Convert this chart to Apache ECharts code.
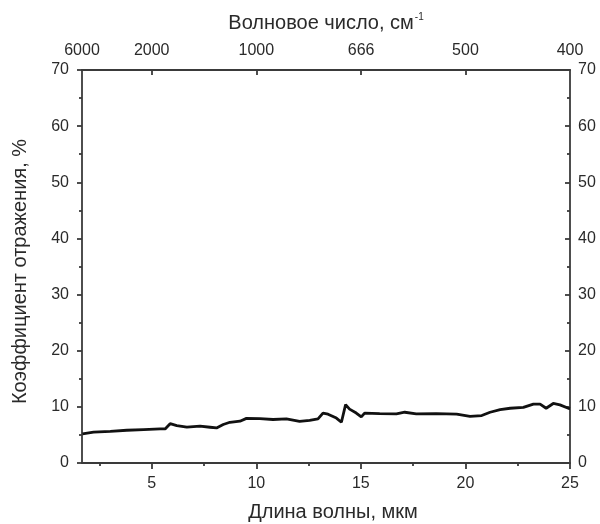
<!DOCTYPE html>
<html>
<head>
<meta charset="utf-8">
<script src="https://cdn.jsdelivr.net/npm/echarts@6/dist/echarts.min.js"></script>
<style>
  html, body { margin: 0; padding: 0; background: #fff; }
  #main { width: 600px; height: 524px; }
</style>
</head>
<body>
<div id="main"></div>
<script>
// длина волны, мкм
const wavelength = [1.69, 2.22, 3.02, 3.81, 4.61, 5.4, 5.64, 5.88, 6.2, 6.68, 7.31, 7.79, 8.1, 8.42, 8.74, 9.22, 9.53,
  10.17, 10.8, 11.44, 12.07, 12.55, 12.95, 13.19, 13.43, 13.83, 14.07, 14.27, 14.46, 14.78, 15.02, 15.18,
  15.9, 16.7, 17.1, 17.65, 18.6, 19.58, 20.22, 20.78, 21.18, 21.66, 22.14, 22.77, 23.25, 23.57, 23.86,
  24.2, 24.52, 24.92, 25];
// коэффициент отражения, %
const reflect = [5.2, 5.5, 5.65, 5.83, 5.95, 6.07, 6.07, 7.0, 6.66, 6.4, 6.55, 6.37, 6.25, 6.85, 7.25, 7.45, 7.95,
  7.9, 7.75, 7.85, 7.4, 7.6, 7.85, 8.9, 8.7, 8.0, 7.25, 10.4, 9.6, 8.9, 8.2, 8.9,
  8.8, 8.75, 9.04, 8.75, 8.8, 8.7, 8.3, 8.45, 9.04, 9.5, 9.75, 9.9, 10.5, 10.5, 9.75,
  10.6, 10.35, 9.75, 9.7];

const bottomTicks = [5, 10, 15, 20, 25];
const bottomMinor = [2.5, 7.5, 12.5, 17.5, 22.5];
const wavenumbers = [6000, 2000, 1000, 666, 500, 400];

const xMin = 10000 / 6000, xMax = 25;
const axisColor = '#3a3a3a';
const textColor = '#2a2a2a';
const font = 'Liberation Sans, Arial, sans-serif';
const topPos = wavenumbers.map(w => 10000 / w);

const chart = echarts.init(document.getElementById('main'));
const lineSt = { color: axisColor, width: 1.8 };
const option = {
  animation: false,
  grid: { left: 82, right: 30, top: 70, bottom: 61, outerBoundsMode: 'none' },
  xAxis: [
    {
      type: 'value', position: 'bottom', min: xMin, max: xMax,
      axisLine: { lineStyle: lineSt },
      axisTick: { customValues: bottomTicks, length: 6, lineStyle: lineSt },
      axisLabel: { customValues: bottomTicks, color: textColor, fontSize: 16, fontFamily: font, margin: 13 },
      splitLine: { show: false },
      name: 'Длина волны, мкм', nameLocation: 'middle', nameGap: 39,
      nameTextStyle: { color: textColor, fontSize: 20, fontFamily: font, padding: [0, 0, 0, 14] }
    },
    {
      type: 'value', position: 'bottom', min: xMin, max: xMax,
      axisLine: { show: false },
      axisTick: { customValues: bottomMinor, length: 3, lineStyle: lineSt },
      axisLabel: { show: false },
      splitLine: { show: false }
    },
    {
      type: 'value', position: 'top', min: xMin, max: xMax,
      axisLine: { lineStyle: lineSt },
      axisTick: { customValues: topPos.slice(1, 5), inside: true, length: 5, lineStyle: lineSt },
      axisLabel: {
        customValues: topPos, color: textColor, fontSize: 16, fontFamily: font, margin: 11,
        formatter: v => String(Math.round(10000 / v))
      },
      splitLine: { show: false },
      name: '{a|Волновое число, см}{b|-1}', nameLocation: 'middle', nameGap: 36,
      nameTextStyle: {
        color: textColor, fontSize: 20, fontFamily: font,
        rich: {
          a: { fontSize: 20, fontFamily: font, color: textColor },
          b: { fontSize: 10, fontFamily: font, color: textColor, verticalAlign: 'top', padding: [0, 0, 12, 1] }
        }
      }
    }
  ],
  yAxis: [
    {
      type: 'value', position: 'left', min: 0, max: 70, interval: 10,
      axisLine: { show: true, lineStyle: lineSt },
      axisTick: { show: true, length: 5, lineStyle: lineSt },
      minorTick: { show: true, splitNumber: 2, length: 3, lineStyle: lineSt },
      axisLabel: { color: textColor, fontSize: 16, fontFamily: font, margin: 13 },
      splitLine: { show: false },
      name: 'Коэффициент отражения, %', nameLocation: 'middle', nameGap: 52, nameRotate: 90,
      nameTextStyle: { color: textColor, fontSize: 20, fontFamily: font, padding: [0, 10, 0, 0] }
    },
    {
      type: 'value', position: 'right', min: 0, max: 70, interval: 10,
      axisLine: { show: true, lineStyle: lineSt },
      axisTick: { show: true, inside: true, length: 5, lineStyle: lineSt },
      minorTick: { show: true, splitNumber: 2, length: 3, lineStyle: lineSt },
      axisLabel: { color: textColor, fontSize: 16, fontFamily: font, margin: 8 },
      splitLine: { show: false }
    }
  ],
  series: [
    {
      type: 'line', xAxisIndex: 0, yAxisIndex: 0, showSymbol: false,
      data: wavelength.map((x, i) => [x, reflect[i]]),
      lineStyle: { color: '#111', width: 2.8 }
    }
  ]
};
chart.setOption(option);
</script>
</body>
</html>
